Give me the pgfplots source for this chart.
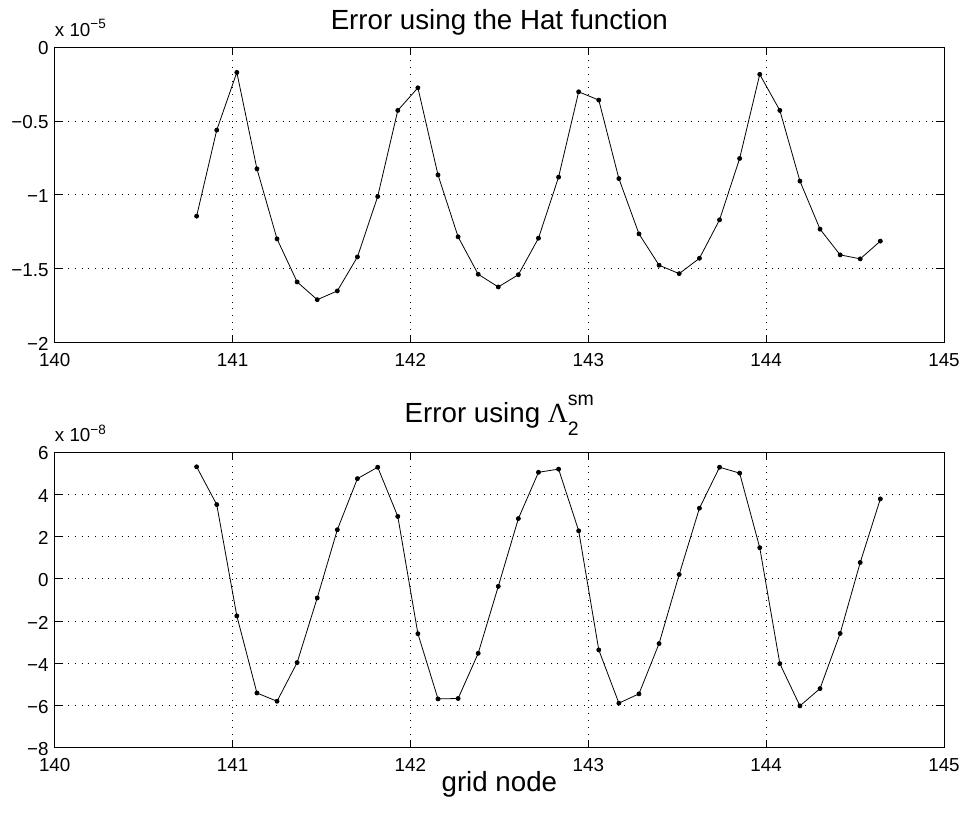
\documentclass[border=0pt]{standalone}
\usepackage{fontspec}
\setmainfont{Liberation Sans}
\newfontfamily\serifgreek{Liberation Serif}
\usepackage{pgfplots}
\pgfplotsset{compat=1.18}

\pgfplotstableread{
x y
140.798 -1.144
140.911 -0.562
141.024 -0.172
141.137 -0.824
141.250 -1.298
141.363 -1.589
141.476 -1.709
141.589 -1.650
141.702 -1.420
141.816 -1.011
141.929 -0.429
142.042 -0.276
142.155 -0.865
142.268 -1.284
142.381 -1.537
142.494 -1.623
142.607 -1.540
142.720 -1.293
142.833 -0.880
142.946 -0.303
143.059 -0.359
143.172 -0.890
143.285 -1.264
143.398 -1.476
143.511 -1.533
143.625 -1.429
143.738 -1.169
143.851 -0.754
143.964 -0.185
144.077 -0.429
144.190 -0.907
144.303 -1.232
144.416 -1.406
144.529 -1.433
144.642 -1.313
}\hatdata

\pgfplotstableread{
x y
140.798 5.30
140.911 3.51
141.024 -1.76
141.137 -5.41
141.250 -5.80
141.363 -3.97
141.476 -0.91
141.589 2.32
141.702 4.74
141.816 5.28
141.929 2.95
142.042 -2.60
142.155 -5.69
142.268 -5.67
142.381 -3.53
142.494 -0.36
142.607 2.85
142.720 5.04
142.833 5.19
142.946 2.27
143.059 -3.37
143.172 -5.89
143.285 -5.45
143.398 -3.07
143.511 0.20
143.625 3.34
143.738 5.28
143.851 5.00
143.964 1.47
144.077 -4.02
144.190 -6.02
144.303 -5.20
144.416 -2.59
144.529 0.77
144.642 3.78
}\smdata

\begin{document}
\begin{tikzpicture}
\path[use as bounding box] (0pt,0pt) rectangle (966pt,-813pt);
\pgfplotsset{
  myax/.style={
    scale only axis, width=889.3pt, height=295.7pt,
    anchor=south west,
    xmin=140, xmax=145,
    xtick={140,141,142,143,144,145},
    xticklabels={140,141,142,143,144,145},
    axis line style={line width=0.9pt, black},
    tick style={line width=0.8pt, black},
    major tick length=8pt,
    tick align=inside,
    tick pos=both,
    grid=major,
    major grid style={black, line width=0.8pt, dash pattern=on 0.8pt off 5.9pt},
    ticklabel style={font=\fontsize{18.8}{20}\selectfont},
    xticklabel style={anchor=base, yshift=-24pt},
    yticklabel style={anchor=east, inner sep=0pt, xshift=-6pt, yshift=-1.5pt},
    every axis title/.style={at={(0.5,1)}, anchor=base, font=\fontsize{27.7}{30}\selectfont},
    every axis x label/.style={at={(0.5,0)}, anchor=base, yshift=-44pt, font=\fontsize{27.7}{30}\selectfont},
    clip=false,
  },
  myplot/.style={black, line width=0.8pt, mark=*, mark size=2pt, mark options={solid, fill=black}},
}
\begin{axis}[myax, at={(54.7pt,-342.7pt)},
  ymin=-2, ymax=0,
  ytick={-2,-1.5,-1,-0.5,0},
  yticklabels={−2,−1.5,−1,−0.5,0},
  title={Error using the Hat function},
  title style={yshift=17.3pt},
]
\addplot[myplot] table[x=x,y=y]{\hatdata};
\node[anchor=base west, inner sep=0pt, font=\fontsize{18.8}{20}\selectfont] at (rel axis cs:0,1) [yshift=10.5pt] {x 10\raisebox{7.5pt}{\fontsize{13.5}{14}\selectfont −5}};
\end{axis}

\begin{axis}[myax, at={(54.7pt,-747.7pt)},
  ymin=-8, ymax=6,
  ytick={-8,-6,-4,-2,0,2,4,6},
  yticklabels={−8,−6,−4,−2,0,2,4,6},
  title={Error using {\serifgreek Λ}\rlap{\raisebox{-13.3pt}{\fontsize{19.5}{20}\selectfont 2}}\raisebox{16.7pt}{\fontsize{19.5}{20}\selectfont sm}},
  title style={yshift=30pt},
  xlabel={grid node},
]
\addplot[myplot] table[x=x,y=y]{\smdata};
\node[anchor=base west, inner sep=0pt, font=\fontsize{18.8}{20}\selectfont] at (rel axis cs:0,1) [yshift=10.5pt] {x 10\raisebox{7.5pt}{\fontsize{13.5}{14}\selectfont −8}};
\end{axis}
\end{tikzpicture}
\end{document}
